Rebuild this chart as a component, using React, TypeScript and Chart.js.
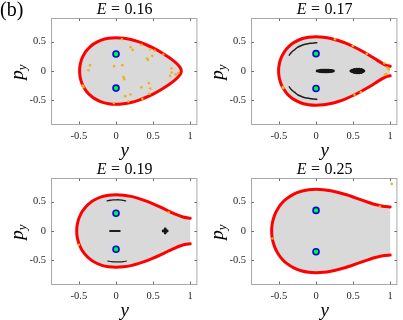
import React, { useEffect, useRef } from 'react';
import { Chart, registerables } from 'chart.js';

Chart.register(...registerables);

// ---------- axes ----------
const xTickValues = [-0.5, 0, 0.5, 1];
const yTickValues = [-0.5, 0, 0.5];
const X_MIN = -0.863;
const X_MAX = 1.097;
const Y_MIN = -0.9;
const Y_MAX = 0.9;

// ---------- E = 0.16 ----------
const e16Y = [-0.491, -0.49, -0.485, -0.48, -0.47, -0.45, -0.42, -0.4, -0.35, -0.3, -0.2, -0.1, 0, 0.1, 0.2, 0.3, 0.4, 0.5, 0.6, 0.7, 0.75, 0.8, 0.84, 0.86, 0.87, 0.875, 0.88];
const e16Upper = [0, 0.038, 0.093, 0.126, 0.173, 0.238, 0.307, 0.343, 0.411, 0.46, 0.524, 0.556, 0.566, 0.557, 0.534, 0.498, 0.45, 0.392, 0.323, 0.242, 0.197, 0.146, 0.098, 0.067, 0.046, 0.032, 0];
const e16Lower = [0, -0.038, -0.093, -0.126, -0.173, -0.238, -0.307, -0.343, -0.411, -0.46, -0.524, -0.556, -0.566, -0.557, -0.534, -0.498, -0.45, -0.392, -0.323, -0.242, -0.197, -0.146, -0.098, -0.067, -0.046, -0.032, 0];
const e16FixedY = [0, 0];
const e16FixedPy = [0.288, -0.29];
const e16OrangeY = [0.079, 0.197, 0.224, 0.342, 0.461, 0.518, 0.487, 0.637, 0.417, 0.43, -0.35, -0.372, -0.026, 0.084, 0.101, 0.11, 0.746, 0.75, 0.803, 0.838, 0.729, 0.443, 0.461, 0.342, 0.452, 0.197, 0.124, 0.355, 0.167, -0.03, -0.447, -0.44, -0.452];
const e16OrangePy = [0.54, 0.404, 0.358, 0.443, 0.37, 0.347, 0.257, 0.279, 0.211, 0.189, 0.099, 0.014, 0.082, 0.099, -0.104, -0.138, 0.042, -0.026, -0.054, -0.037, -0.082, -0.206, -0.297, -0.274, -0.387, -0.399, -0.427, -0.472, -0.518, -0.545, -0.26, -0.275, -0.245];

// ---------- E = 0.17 ----------
const e17Y = [-0.5044, -0.504, -0.5, -0.49, -0.47, -0.45, -0.4, -0.35, -0.3, -0.2, -0.1, 0, 0.1, 0.2, 0.3, 0.4, 0.5, 0.6, 0.7, 0.8, 0.9, 0.95, 1];
const e17Upper = [0, 0.025, 0.082, 0.147, 0.223, 0.277, 0.371, 0.435, 0.482, 0.543, 0.574, 0.583, 0.575, 0.553, 0.518, 0.472, 0.416, 0.352, 0.281, 0.203, 0.126, 0.095, 0.082];
const e17Lower = [0, -0.025, -0.082, -0.147, -0.223, -0.277, -0.371, -0.435, -0.482, -0.543, -0.574, -0.583, -0.575, -0.553, -0.518, -0.472, -0.416, -0.352, -0.281, -0.203, -0.126, -0.095, -0.082];
const e17FixedY = [0, 0];
const e17FixedPy = [0.295, -0.297];
const e17OrangeY = [0.255, 0.496, 0.684, 0.92, 0.96, 0.98, 0.93, 0.95, -0.447, -0.44, 0.518, 0.605];
const e17OrangePy = [0.54, 0.426, 0.291, 0.13, 0.06, 0.03, -0.06, -0.05, -0.274, -0.29, -0.404, -0.359];
const e17ArcUpperY = [-0.36, -0.33, -0.29, -0.25, -0.21, -0.16, -0.12, -0.07, -0.03, 0.01];
const e17ArcUpperPy = [0.27, 0.32, 0.36, 0.4, 0.425, 0.45, 0.46, 0.47, 0.477, 0.48];
const e17ArcLowerY = [-0.36, -0.33, -0.29, -0.25, -0.21, -0.16, -0.12, -0.07, -0.03, 0.01];
const e17ArcLowerPy = [-0.27, -0.32, -0.36, -0.4, -0.425, -0.45, -0.46, -0.47, -0.477, -0.48];
const e17BlobY = [
  0.015, 0.035, 0.055, 0.075, 0.095, 0.115, 0.135, 0.155, 0.175, 0.195, 0.215, 0.235,
  0.05, 0.07, 0.09, 0.11, 0.13, 0.15, 0.17, 0.19, 0.21,
  0.05, 0.07, 0.09, 0.11, 0.13, 0.15, 0.17, 0.19, 0.21,
  0.47, 0.49, 0.51, 0.53, 0.55, 0.57, 0.59, 0.61, 0.63, 0.645,
  0.49, 0.51, 0.53, 0.55, 0.57, 0.59, 0.61, 0.63,
  0.49, 0.51, 0.53, 0.55, 0.57, 0.59, 0.61, 0.63,
  0.52, 0.55, 0.58, 0.61, 0.52, 0.55, 0.58, 0.61,
];
const e17BlobPy = [
  0, 0, 0, 0, 0, 0, 0, 0, 0, 0, 0, 0,
  0.012, 0.013, 0.014, 0.015, 0.015, 0.015, 0.014, 0.012, 0.01,
  -0.012, -0.013, -0.014, -0.015, -0.015, -0.015, -0.014, -0.012, -0.01,
  0, 0, 0, 0, 0, 0, 0, 0, 0, 0,
  0.015, 0.017, 0.018, 0.019, 0.02, 0.02, 0.018, 0.014,
  -0.015, -0.017, -0.018, -0.019, -0.02, -0.02, -0.018, -0.014,
  0.028, 0.032, 0.033, 0.028, -0.028, -0.032, -0.033, -0.028,
];

// ---------- E = 0.19 ----------
const e19Y = [-0.5299, -0.529, -0.525, -0.52, -0.5, -0.47, -0.45, -0.4, -0.35, -0.3, -0.2, -0.1, 0, 0.1, 0.2, 0.3, 0.4, 0.5, 0.6, 0.7, 0.8, 0.9, 1];
const e19Upper = [0, 0.038, 0.089, 0.126, 0.216, 0.3, 0.342, 0.421, 0.478, 0.522, 0.579, 0.608, 0.616, 0.609, 0.588, 0.555, 0.513, 0.462, 0.405, 0.344, 0.285, 0.237, 0.216];
const e19Lower = [0, -0.038, -0.089, -0.126, -0.216, -0.3, -0.342, -0.421, -0.478, -0.522, -0.579, -0.608, -0.616, -0.609, -0.588, -0.555, -0.513, -0.462, -0.405, -0.344, -0.285, -0.237, -0.216];
const e19FixedY = [0, 0];
const e19FixedPy = [0.302, -0.31];
const e19OrangeY = [-0.503, 0.708];
const e19OrangePy = [-0.235, 0.319];
const e19ArcUpperY = [-0.12, -0.08, -0.04, 0, 0.04, 0.08, 0.13];
const e19ArcUpperPy = [0.512, 0.522, 0.528, 0.53, 0.53, 0.526, 0.512];
const e19ArcLowerY = [-0.11, -0.06, 0, 0.05, 0.1, 0.14];
const e19ArcLowerPy = [-0.51, -0.52, -0.525, -0.525, -0.52, -0.51];
const e19DashY = [-0.08, 0.05];
const e19DashPy = [0, 0];
const e19CrossY = [0.635, 0.65, 0.663, 0.676, 0.69, 0.663, 0.663, 0.663, 0.663];
const e19CrossPy = [0, 0, 0, 0, 0, 0.035, 0.018, -0.018, -0.035];

// ---------- E = 0.25 ----------
const e25Y = [-0.5979, -0.597, -0.595, -0.59, -0.58, -0.55, -0.5, -0.45, -0.4, -0.3, -0.2, -0.1, 0, 0.1, 0.2, 0.3, 0.4, 0.5, 0.6, 0.7, 0.8, 0.9, 1];
const e25Upper = [0, 0.042, 0.075, 0.122, 0.183, 0.294, 0.408, 0.487, 0.545, 0.626, 0.674, 0.7, 0.707, 0.701, 0.682, 0.654, 0.619, 0.577, 0.533, 0.489, 0.449, 0.42, 0.408];
const e25Lower = [0, -0.042, -0.075, -0.122, -0.183, -0.294, -0.408, -0.487, -0.545, -0.626, -0.674, -0.7, -0.707, -0.701, -0.682, -0.654, -0.619, -0.577, -0.533, -0.489, -0.449, -0.42, -0.408];
const e25FixedY = [0, 0];
const e25FixedPy = [0.35, -0.352];
const e25OrangeY = [-0.587, 0.86, 1.02];
const e25OrangePy = [-0.128, 0.414, 0.8];

const energyLabels = ['0.16', '0.17', '0.19', '0.25'];

// ---------- helpers ----------
type P = { x: number; y: number };
const zip = (xs: number[], ys: number[]): P[] => xs.map((x, i) => ({ x, y: ys[i] }));
const boundaryPath = (ys: number[], up: number[], lo: number[]): P[] => {
  const pts: P[] = [];
  for (let i = ys.length - 1; i >= 0; i--) pts.push({ x: ys[i], y: up[i] });
  for (let i = 0; i < ys.length; i++) pts.push({ x: ys[i], y: lo[i] });
  return pts;
};

const SERIF = '"Liberation Serif", "Times New Roman", serif';

const fixedDs = (d: P[]) => ({
  data: d, showLine: false, pointRadius: 3, pointBorderWidth: 1.6,
  pointBorderColor: '#0000ff', pointBackgroundColor: '#00ff00', order: 0,
});
const orangeDs = (d: P[]) => ({
  data: d, showLine: false, pointRadius: 1.3, pointBorderWidth: 0,
  pointBackgroundColor: '#EDB120', order: 1,
});
const blackPtsDs = (d: P[]) => ({
  data: d, showLine: false, pointRadius: 1.4, pointBorderWidth: 0,
  pointBackgroundColor: '#161616', order: 2,
});
const blackLineDs = (d: P[], w: number) => ({
  data: d, showLine: true, borderColor: '#1e1e1e', borderWidth: w, pointRadius: 0,
  tension: 0.3, borderCapStyle: 'round', order: 2, fill: false,
});
const boundaryDs = (d: P[]) => ({
  data: d, showLine: true, borderColor: '#ff0000', borderWidth: 3, pointRadius: 0,
  tension: 0.2, borderJoinStyle: 'round', borderCapStyle: 'round',
  fill: 'shape', backgroundColor: '#d9d9d9', order: 3,
});

const panels = [
  {
    energy: energyLabels[0], tag: '(b)', left: 0, top: 0,
    datasets: [
      fixedDs(zip(e16FixedY, e16FixedPy)),
      orangeDs(zip(e16OrangeY, e16OrangePy)),
      boundaryDs(boundaryPath(e16Y, e16Upper, e16Lower)),
    ],
  },
  {
    energy: energyLabels[1], tag: '', left: 200, top: 0,
    datasets: [
      fixedDs(zip(e17FixedY, e17FixedPy)),
      orangeDs(zip(e17OrangeY, e17OrangePy)),
      blackPtsDs(zip(e17BlobY, e17BlobPy)),
      blackLineDs(zip(e17ArcUpperY, e17ArcUpperPy), 1.5),
      blackLineDs(zip(e17ArcLowerY, e17ArcLowerPy), 1.5),
      boundaryDs(boundaryPath(e17Y, e17Upper, e17Lower)),
    ],
  },
  {
    energy: energyLabels[2], tag: '', left: 0, top: 160,
    datasets: [
      fixedDs(zip(e19FixedY, e19FixedPy)),
      orangeDs(zip(e19OrangeY, e19OrangePy)),
      blackPtsDs(zip(e19CrossY, e19CrossPy)),
      blackLineDs(zip(e19ArcUpperY, e19ArcUpperPy), 1.3),
      blackLineDs(zip(e19ArcLowerY, e19ArcLowerPy), 1.2),
      blackLineDs(zip(e19DashY, e19DashPy), 2),
      boundaryDs(boundaryPath(e19Y, e19Upper, e19Lower)),
    ],
  },
  {
    energy: energyLabels[3], tag: '', left: 200, top: 160,
    datasets: [
      fixedDs(zip(e25FixedY, e25FixedPy)),
      orangeDs(zip(e25OrangeY, e25OrangePy)),
      boundaryDs(boundaryPath(e25Y, e25Upper, e25Lower)),
    ],
  },
];

const decorPlugin = {
  id: 'decor',
  afterDraw(chart: any, _args: any, opts: any) {
    const { ctx, chartArea: a, scales } = chart;
    const xs = scales.x;
    const ys = scales.y;
    ctx.save();
    // box
    ctx.strokeStyle = '#a8a8a8';
    ctx.lineWidth = 1;
    ctx.strokeRect(a.left - 0.5, a.top + 0.5, a.right - a.left, a.bottom - a.top);
    // inward ticks on all sides
    ctx.strokeStyle = '#6a6a6a';
    ctx.beginPath();
    const tl = 2.5;
    xTickValues.forEach((v) => {
      const p = Math.round(xs.getPixelForValue(v)) + 0.5;
      ctx.moveTo(p, a.bottom); ctx.lineTo(p, a.bottom - tl);
      ctx.moveTo(p, a.top + 0.5); ctx.lineTo(p, a.top + 0.5 + tl);
    });
    yTickValues.forEach((v) => {
      const p = Math.round(ys.getPixelForValue(v)) + 0.5;
      ctx.moveTo(a.left - 0.5, p); ctx.lineTo(a.left - 0.5 + tl, p);
      ctx.moveTo(a.right - 0.5, p); ctx.lineTo(a.right - 0.5 - tl, p);
    });
    ctx.stroke();

    ctx.fillStyle = '#000';
    ctx.textBaseline = 'alphabetic';
    // title: E = value
    const cx = (a.left + a.right) / 2;
    const italic = `italic 16px ${SERIF}`;
    const upright = `16px ${SERIF}`;
    ctx.font = italic;
    const wE = ctx.measureText('E').width;
    ctx.font = upright;
    const wEq = ctx.measureText('=').width;
    const wV = ctx.measureText(opts.energy).width;
    const gap = 4.5;
    const total = wE + gap + wEq + gap + wV;
    let x0 = cx - total / 2;
    const tb = 14;
    ctx.font = italic; ctx.textAlign = 'left';
    ctx.fillText('E', x0, tb);
    x0 += wE + gap;
    ctx.font = upright;
    ctx.fillText('=', x0, tb);
    x0 += wEq + gap;
    ctx.fillText(opts.energy, x0, tb);

    // x label
    ctx.font = `italic 19px ${SERIF}`;
    ctx.textAlign = 'center';
    ctx.fillText('y', cx, 155.5);

    // y label p_y (rotated)
    ctx.save();
    ctx.translate(22.5, (a.top + a.bottom) / 2 + 1);
    ctx.rotate(-Math.PI / 2);
    ctx.font = `italic 19px ${SERIF}`;
    const wp = ctx.measureText('p').width;
    ctx.font = `italic 13px ${SERIF}`;
    const wy = ctx.measureText('y').width;
    const tw = wp + wy;
    ctx.textAlign = 'left';
    ctx.font = `italic 19px ${SERIF}`;
    ctx.fillText('p', -tw / 2, 0);
    ctx.font = `italic 13px ${SERIF}`;
    ctx.fillText('y', -tw / 2 + wp, 3.5);
    ctx.restore();

    if (opts.tag) {
      ctx.font = `20px ${SERIF}`;
      ctx.textAlign = 'left';
      ctx.fillText(opts.tag, 0, 16);
    }
    ctx.restore();
  },
};

function Panel({ panel }: { panel: any }) {
  const ref = useRef<HTMLCanvasElement>(null);
  useEffect(() => {
    if (!ref.current) return;
    const chart = new Chart(ref.current, {
      type: 'line',
      data: { datasets: panel.datasets as any },
      options: {
        animation: false,
        responsive: false,
        events: [],
        layout: { padding: { top: 18, right: 2, bottom: 0, left: 0 } },
        plugins: {
          legend: { display: false },
          tooltip: { enabled: false },
          decor: { energy: panel.energy, tag: panel.tag },
        } as any,
        scales: {
          x: {
            type: 'linear', min: X_MIN, max: X_MAX,
            afterBuildTicks: (s: any) => { s.ticks = xTickValues.map((v) => ({ value: v })); },
            afterFit: (s: any) => { s.height = 36; },
            grid: { display: false, drawTicks: false },
            border: { display: false },
            ticks: {
              font: { family: SERIF, size: 10.5 }, color: '#262626', padding: 6,
              maxRotation: 0, autoSkip: false, callback: (v: any) => String(v),
            },
          },
          y: {
            type: 'linear', min: Y_MIN, max: Y_MAX,
            afterBuildTicks: (s: any) => { s.ticks = yTickValues.map((v) => ({ value: v })); },
            afterFit: (s: any) => { s.width = 52; },
            grid: { display: false, drawTicks: false },
            border: { display: false },
            ticks: {
              font: { family: SERIF, size: 10.5 }, color: '#262626', padding: 6,
              autoSkip: false, callback: (v: any) => String(v),
            },
          },
        },
      } as any,
      plugins: [decorPlugin as any],
    });
    return () => chart.destroy();
  }, [panel]);
  return (
    <canvas
      ref={ref}
      width={203}
      height={160}
      style={{ position: 'absolute', left: panel.left, top: panel.top, width: 203, height: 160 }}
    />
  );
}

export default function App() {
  return (
    <div style={{ position: 'absolute', left: 0, top: 0, width: 403, height: 320, background: '#fff', overflow: 'hidden' }}>
      {panels.map((p, i) => (
        <Panel key={i} panel={p} />
      ))}
    </div>
  );
}
